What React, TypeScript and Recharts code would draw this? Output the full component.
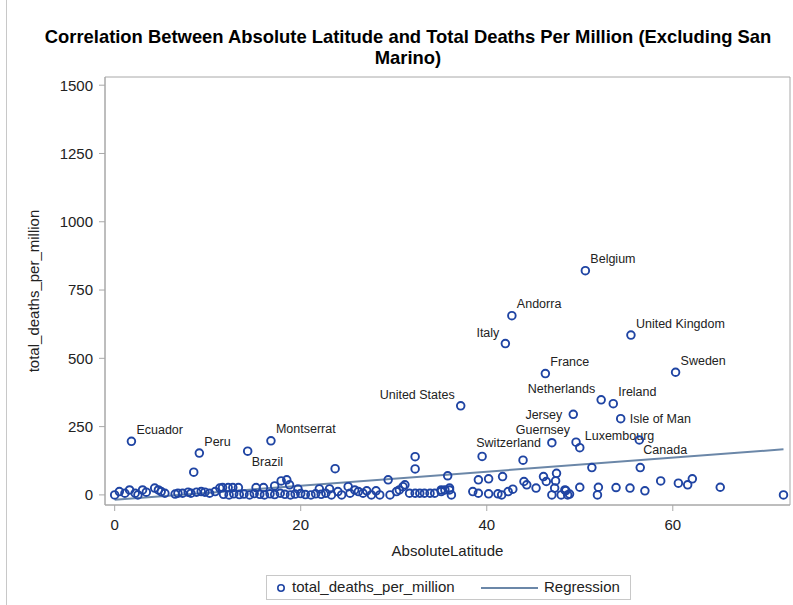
import React from "react";
import { ReferenceArea, Scatter, ScatterChart, XAxis, YAxis } from "recharts";

// labelled countries: [name, absolute latitude, deaths per million]
const named: [string, number, number][] = [
  ["Belgium", 50.6, 821],
  ["Andorra", 42.7, 656],
  ["Italy", 42.0, 554],
  ["United Kingdom", 55.5, 585],
  ["France", 46.3, 444],
  ["Sweden", 60.3, 449],
  ["Netherlands", 52.3, 348],
  ["Ireland", 53.6, 334],
  ["Isle of Man", 54.4, 279],
  ["Jersey", 49.3, 295],
  ["United States", 37.2, 326],
  ["Guernsey", 49.6, 193],
  ["Luxembourg", 50.0, 173],
  ["Switzerland", 47.0, 191],
  ["Canada", 56.4, 201],
  ["Ecuador", 1.8, 196],
  ["Peru", 9.1, 153],
  ["Brazil", 14.3, 160],
  ["Montserrat", 16.8, 198],
];

// the rest of the countries: [absolute latitude, deaths per million]
const others: [number, number][] = [
  [8.5, 83], [23.7, 96], [29.4, 55], [32.3, 140], [32.3, 95], [35.8, 70],
  [39.5, 141], [39.1, 55], [40.2, 59], [41.7, 67], [43.9, 127], [44.0, 49],
  [44.3, 37], [45.3, 25], [46.1, 67], [46.4, 49], [47.5, 79], [47.4, 51],
  [47.3, 25], [47.0, 0], [48.0, 0], [48.4, 18], [51.3, 100], [56.5, 100],
  [48.9, 3], [50.0, 28], [52.0, 28], [51.9, 0], [53.9, 27], [55.4, 25],
  [57.0, 15], [58.7, 51], [60.6, 43], [61.6, 37], [62.1, 59], [65.1, 28],
  [71.9, 0], [35.1, 18], [36.0, 18], [36.2, 0], [38.5, 12], [39.1, 6],
  [40.2, 4], [41.2, 4], [41.6, 0], [42.3, 12], [42.8, 21], [48.5, 16],
  [48.7, 0],
  [0.0, 0], [0.5, 12], [1.1, 6], [1.6, 18], [2.2, 6], [2.5, 0], [3.0, 18],
  [3.4, 10], [4.3, 25], [4.7, 18], [5.0, 12], [5.4, 6], [6.5, 3], [6.8, 6],
  [7.3, 6], [7.9, 10], [8.2, 6], [8.8, 10], [9.3, 12], [9.7, 10], [10.2, 6],
  [10.8, 12], [11.3, 25],
  [11.6, 27], [12.2, 27], [12.7, 27], [13.3, 27], [15.2, 27], [16.0, 27],
  [17.2, 33], [17.9, 51], [18.5, 55], [18.8, 37], [19.7, 22], [22.0, 22],
  [23.1, 22],
  [11.7, 2], [12.3, 0], [12.8, 4], [13.4, 1], [13.9, 3], [14.5, 0], [15.0, 5],
  [15.6, 2], [16.1, 0], [16.7, 4], [17.2, 1], [17.8, 6], [18.3, 2], [18.9, 0],
  [19.4, 3], [20.0, 5], [20.5, 1], [21.1, 0], [21.6, 4], [22.2, 2], [22.7, 6],
  [23.3, 0],
  [24.0, 12], [24.4, 0], [25.1, 30], [25.3, 6], [25.8, 18], [26.2, 12],
  [26.7, 6], [27.1, 15], [27.6, 0], [28.1, 15], [28.5, 0], [29.6, 0],
  [30.3, 12], [30.6, 18], [31.0, 30], [31.2, 37], [31.7, 6], [32.3, 6],
  [32.8, 6], [33.3, 6], [33.9, 6], [34.4, 6], [35.1, 12], [35.5, 18], [36.0, 25],
];

// fitted line end points
const regression: [number, number][] = [
  [0.0, -18],
  [71.9, 167],
];

const xTicks = [0, 20, 40, 60];
const yTicks = [0, 250, 500, 750, 1000, 1250, 1500];

const points = [
  ...others.map(([x, y]) => ({ x, y, name: "" })),
  ...named.map(([name, x, y]) => ({ x, y, name })),
];
const fit = regression.map(([x, y]) => ({ x, y }));

const MARK = "#1f44a3";
const FIT = "#6b87a8";
const FRAME = "#a8a8a8";
const FONT = '"Liberation Sans", Arial, sans-serif';

// where each label sits relative to its marker
const side: Record<string, string> = {
  Italy: "ul",
  Netherlands: "ul",
  "United States": "ul",
  Guernsey: "ul",
  Jersey: "l",
  Switzerland: "l",
  "Isle of Man": "r",
  Canada: "dr",
  Brazil: "dr",
};

function Marker(props: any) {
  const { cx, cy, payload } = props;
  const name = payload?.name;
  let label = null;
  if (name) {
    const s = side[name] || "ur";
    let tx = cx + 5;
    let ty = cy - 12;
    let anchor = "start";
    if (s === "ul") { tx = cx - 6; ty = cy - 11; anchor = "end"; }
    if (s === "l") { tx = cx - 11; ty = cy; anchor = "end"; }
    if (s === "r") { tx = cx + 9; ty = cy; }
    if (s === "dr") { tx = cx + 4; ty = cy + 10; }
    if (name === "Guernsey") ty -= 2;
    label = (
      <text x={tx} y={ty + 4.5} textAnchor={anchor} fontSize={12.5} fill="#222" fontFamily={FONT}>
        {name}
      </text>
    );
  }
  return (
    <g>
      <circle cx={cx} cy={cy} r={3.8} fill="none" stroke={MARK} strokeWidth={1.9} />
      {label}
    </g>
  );
}

export default function App() {
  const tick = { fontSize: 15, fill: "#222", fontFamily: FONT };
  return (
    <div style={{ position: "absolute", left: 0, top: 0, width: 793, height: 605, background: "#fff", overflow: "hidden", fontFamily: FONT }}>
      <div style={{ position: "absolute", left: 6, top: 0, height: 605, borderLeft: "1px solid #c8c8c8" }} />
      <div style={{ position: "absolute", left: 28, top: 26, width: 760, textAlign: "center", fontWeight: 700, fontSize: 18.4, lineHeight: "21px", color: "#000" }}>
        Correlation Between Absolute Latitude and Total Deaths Per Million (Excluding San Marino)
      </div>
      <div style={{ position: "absolute", left: 0, top: 0 }}>
        <ScatterChart width={793} height={605} margin={{ top: 77, right: 3, bottom: 60, left: 0 }}>
          <XAxis
            type="number"
            dataKey="x"
            domain={[-1.04, 72.6]}
            ticks={xTicks}
            allowDataOverflow
            tick={tick}
            tickSize={6}
            tickMargin={8}
            stroke={FRAME}
            height={40}
          />
          <YAxis
            type="number"
            dataKey="y"
            domain={[-37, 1530]}
            ticks={yTicks}
            allowDataOverflow
            tick={tick}
            tickSize={6}
            tickMargin={6}
            stroke={FRAME}
            width={105}
          />
          <ReferenceArea x1={-1.04} x2={72.6} y1={-37} y2={1530} fill="none" stroke={FRAME} strokeWidth={1} ifOverflow="visible" />
          <Scatter data={fit} line={{ stroke: FIT, strokeWidth: 2 }} shape={() => <g />} isAnimationActive={false} />
          <Scatter data={points} shape={Marker} isAnimationActive={false} />
        </ScatterChart>
      </div>
      <div style={{ position: "absolute", left: 33, top: 291, transform: "translate(-50%, -50%) rotate(-90deg)", whiteSpace: "nowrap", fontSize: 15, color: "#222" }}>
        total_deaths_per_million
      </div>
      <div style={{ position: "absolute", left: 447.5, top: 542, transform: "translateX(-50%)", whiteSpace: "nowrap", fontSize: 15, color: "#222" }}>
        AbsoluteLatitude
      </div>
      <div style={{ position: "absolute", left: 266, top: 575, width: 363, height: 23, border: "1px solid #c8c8c8", fontSize: 15, color: "#222" }}>
        <svg width={363} height={23} style={{ position: "absolute", left: 0, top: 0 }}>
          <circle cx={14} cy={12} r={3.2} fill="none" stroke={MARK} strokeWidth={1.6} />
          <line x1={214} x2={271} y1={12} y2={12} stroke={FIT} strokeWidth={2} />
        </svg>
        <span style={{ position: "absolute", left: 25, top: 2, whiteSpace: "nowrap" }}>total_deaths_per_million</span>
        <span style={{ position: "absolute", left: 277, top: 2, whiteSpace: "nowrap" }}>Regression</span>
      </div>
    </div>
  );
}
